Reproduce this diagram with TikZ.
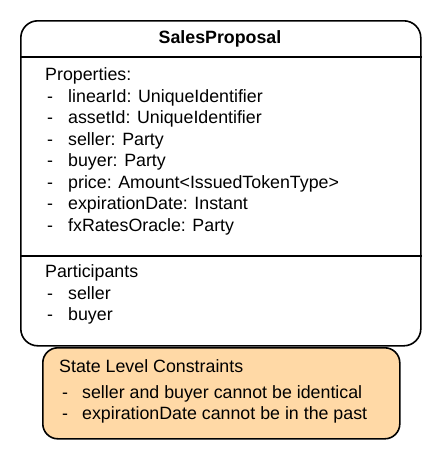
\documentclass[tikz,border=0pt]{standalone}
\usepackage{fontspec}
\setmainfont{Liberation Sans}
\definecolor{noteorange}{HTML}{FFD9A6}
\begin{document}
\begin{tikzpicture}[x=1pt,y=-1pt,
  every node/.style={font=\fontsize{17.8}{21.5}\selectfont},
  frame/.style={draw=black, line width=1.6pt, rounded corners=17pt},
  txt/.style={inner sep=0pt, anchor=base west},
  bullet/.style={inner sep=0pt, anchor=base west}
]
\useasboundingbox (0,0) rectangle (440,456);

% class box
\node[frame, fill=white, minimum width=400pt, minimum height=325pt,
      anchor=north west, inner sep=0pt] (state) at (20,20) {};
\node[inner sep=0pt, anchor=base, font=\fontsize{17.8}{21.5}\selectfont\bfseries]
  (title) at (220,43) {SalesProposal};
\coordinate (d1) at (0,57);
\coordinate (d2) at (0,256);
\draw[line width=1.6pt] (state.west |- d1) -- (state.east |- d1);
\draw[line width=1.6pt] (state.west |- d2) -- (state.east |- d2);

% properties compartment
\node[txt] (prop) at (45,80) {Properties:};
\foreach \y/\t [count=\i] in {102/{linearId: UniqueIdentifier},
                  123.5/{assetId: UniqueIdentifier},
                  145/{seller: Party},
                  166.5/{buyer: Party},
                  188/{price: Amount<IssuedTokenType>},
                  209.5/{expirationDate: Instant},
                  231/{fxRatesOracle: Party}} {
  \node[bullet] (pd\i) at (47,\y) {-};
  \node[txt] (p\i) at (68,\y) {\t};
}

% participants compartment
\node[txt] (part) at (45,277) {Participants};
\node[bullet] (sd) at (47,299) {-};
\node[txt] (seller) at (68,299) {seller};
\node[bullet] (bd) at (47,320.5) {-};
\node[txt] (buyer) at (68,320.5) {buyer};

% constraints note
\node[frame, fill=noteorange, minimum width=357pt, minimum height=91pt,
      rounded corners=15pt, anchor=north west, inner sep=0pt] (note) at (42,347) {};
\node[txt] (nt) at (59,372) {State Level Constraints};
\node[bullet] (c1d) at (62,398) {-};
\node[txt] (c1) at (82,398) {seller and buyer cannot be identical};
\node[bullet] (c2d) at (62,419.5) {-};
\node[txt] (c2) at (82,419.5) {expirationDate cannot be in the past};
\end{tikzpicture}
\end{document}
